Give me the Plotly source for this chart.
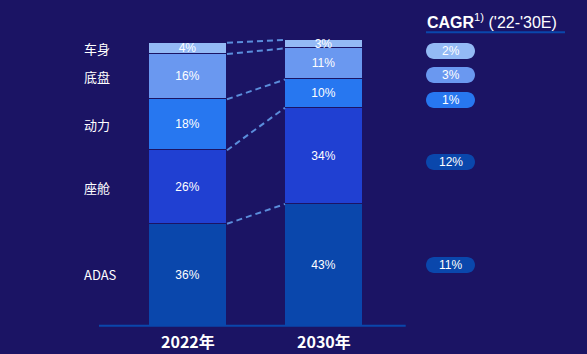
import plotly.graph_objects as go

# ---- data ----
years = ["2022年", "2030年"]
segments = ["ADAS", "座舱", "动力", "底盘", "车身"]
share_2022 = [36, 26, 18, 16, 4]
share_2030 = [43, 34, 10, 11, 3]
cagr = ["11%", "12%", "1%", "3%", "2%"]
cagr_colors = ["#0A47AC", "#0A47AC", "#2777F0", "#6A98F0", "#93BAF5"]
seg_colors = ["#0A47AC", "#2040D2", "#2777F0", "#6A98F0", "#93BAF5"]

BG = "#1B1464"
W, H = 587, 354
FONT = "Liberation Sans, Arial, Noto Sans CJK SC"
CJK = "Noto Sans CJK SC, Liberation Sans"

# pixel mapping helpers (plot area = whole figure)
px_per_x = 136.0
x0_px = 188.0
base_px = 325.7
px_per_y = 2.83

xr = [-x0_px / px_per_x, (W - x0_px) / px_per_x]
yr = [-(H - base_px) / px_per_y, base_px / px_per_y]
bar_w = 78 / px_per_x


def py_to_y(p):
    return (base_px - p) / px_per_y


fig = go.Figure()
xs = list(range(len(years)))
for i, seg in enumerate(segments):
    vals = [share_2022[i], share_2030[i]]
    fig.add_trace(go.Bar(
        x=xs, y=vals, width=bar_w, name=seg,
        marker=dict(color=seg_colors[i], line=dict(color=BG, width=1)),
        text=[f"{v}%" for v in vals], textposition="inside",
        insidetextanchor="middle", constraintext="none", textangle=0,
        textfont=dict(color="white", size=12, family=FONT),
        hoverinfo="skip", showlegend=False,
    ))

# cumulative tops
cum22, cum30 = [], []
s1 = s2 = 0
for a, b in zip(share_2022, share_2030):
    s1 += a
    s2 += b
    cum22.append(s1)
    cum30.append(s2)

# dashed connectors
for t22, t30 in zip(cum22, cum30):
    fig.add_trace(go.Scatter(
        x=[xs[0] + bar_w / 2, xs[1] - bar_w / 2], y=[t22, t30], mode="lines",
        line=dict(color="#5B8EDC", width=2, dash="6px,4px"),
        hoverinfo="skip", showlegend=False,
    ))

annotations = []
# segment labels on the left
prev = 0
for seg, top in zip(segments, cum22):
    annotations.append(dict(
        x=82 / W, xref="paper", y=(prev + top) / 2, yref="y",
        text=seg, showarrow=False, xanchor="left", yanchor="middle",
        font=dict(color="white", size=13, family=CJK),
    ))
    prev = top

# year labels
for i, yl in enumerate(years):
    annotations.append(dict(
        x=xs[i], xref="x", y=py_to_y(341), yref="y", text=f"<b>{yl}</b>",
        showarrow=False, xanchor="center", yanchor="middle",
        font=dict(color="white", size=16, family=CJK),
    ))

# CAGR header
annotations.append(dict(
    x=425 / W, xref="paper", y=1 - 21 / H, yref="paper",
    text="<b>CAGR</b><sup>1)</sup> ('22-'30E)", showarrow=False,
    xanchor="left", yanchor="middle",
    font=dict(color="white", size=16, family=FONT),
))

shapes = []
# header underline
shapes.append(dict(type="line", xref="paper", yref="paper",
                   x0=426 / W, x1=565 / W, y0=1 - 32.3 / H, y1=1 - 32.3 / H,
                   line=dict(color="#0A47AC", width=2)))
# baseline
shapes.append(dict(type="line", xref="paper", yref="y",
                   x0=99 / W, x1=405.7 / W, y0=0, y1=0,
                   line=dict(color="#0A47AC", width=2), layer="above"))

# CAGR pills (pixel centres)
pill_centres = [265, 162, 100, 75, 51]
pl, pr, ph = 426, 475, 16
r = ph / 2


def rounded_path(cx_l, cx_r, cy, rad):
    # pixel coordinates -> paper coordinates
    def P(x, y):
        return f"{x / W:.5f},{1 - y / H:.5f}"
    top, bot = cy - rad, cy + rad
    k = 0.5523 * rad
    return (f"M {P(cx_l + rad, top)} L {P(cx_r - rad, top)} "
            f"C {P(cx_r - rad + k, top)} {P(cx_r, cy - k)} {P(cx_r, cy)} "
            f"C {P(cx_r, cy + k)} {P(cx_r - rad + k, bot)} {P(cx_r - rad, bot)} "
            f"L {P(cx_l + rad, bot)} "
            f"C {P(cx_l + rad - k, bot)} {P(cx_l, cy + k)} {P(cx_l, cy)} "
            f"C {P(cx_l, cy - k)} {P(cx_l + rad - k, top)} {P(cx_l + rad, top)} Z")


for txt, col, cy in zip(cagr, cagr_colors, pill_centres):
    shapes.append(dict(type="path", xref="paper", yref="paper",
                       path=rounded_path(pl, pr, cy, r),
                       fillcolor=col, line=dict(width=0)))
    annotations.append(dict(
        x=(pl + pr) / 2 / W, xref="paper", y=1 - cy / H, yref="paper",
        text=txt, showarrow=False, xanchor="center", yanchor="middle",
        font=dict(color="white", size=12, family=FONT),
    ))

fig.update_layout(
    width=W, height=H, barmode="stack",
    margin=dict(l=0, r=0, t=0, b=0),
    paper_bgcolor=BG, plot_bgcolor=BG,
    xaxis=dict(range=xr, visible=False, fixedrange=True),
    yaxis=dict(range=yr, visible=False, fixedrange=True),
    bargap=0, annotations=annotations, shapes=shapes,
    showlegend=False,
)

fig.write_html("out.html")
